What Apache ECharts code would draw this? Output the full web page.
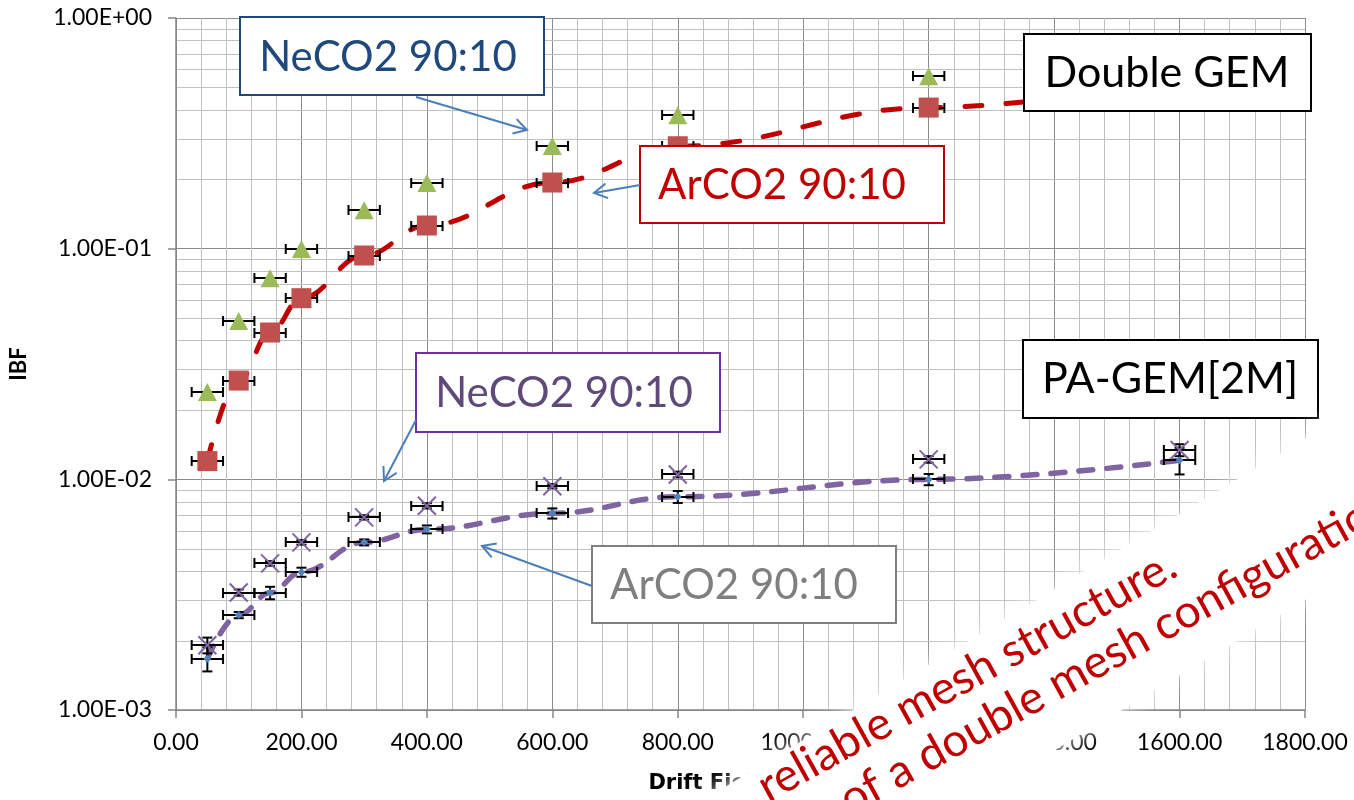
<!DOCTYPE html>
<html><head><meta charset="utf-8">
<script src="https://cdn.jsdelivr.net/npm/echarts@6/dist/echarts.min.js"></script>
<style>html,body{margin:0;padding:0;background:#fff}#c{width:1354px;height:800px}</style>
</head><body><div id="c"></div>
<script>
// ---- data ----
const fieldDGNe = [50, 100, 150, 200, 300, 400, 600, 800, 1200];
const ibfDGNe   = [0.0239, 0.0486, 0.0744, 0.0997, 0.1467, 0.1927, 0.2789, 0.3787, 0.559];
const fieldDGAr = [50, 100, 150, 200, 300, 400, 600, 800, 1200, 1600];
const ibfDGAr   = [0.0120, 0.0268, 0.0433, 0.0610, 0.0934, 0.1260, 0.1935, 0.278, 0.409, 0.54];
const fieldPA   = [50, 100, 150, 200, 300, 400, 600, 800, 1200, 1600];
const ibfPANe   = [0.00191, 0.00323, 0.00432, 0.00533, 0.00684, 0.00768, 0.00934, 0.0105, 0.0122, 0.0134];
const errPANe   = [0.00015, 0.0001, 0.0001, 0.00012, 0.00015, 0.0002, 0.0002, 0.0003, 0.0004, 0.0008];
const ibfPAAr   = [0.00167, 0.00258, 0.00322, 0.00396, 0.00533, 0.00607, 0.00712, 0.0084, 0.00999, 0.0121];
const errPAAr   = [0.0002, 0.00008, 0.0002, 0.00018, 0.00016, 0.00024, 0.00036, 0.0005, 0.00056, 0.0016];
const fieldErr  = 25;
const yDecades  = [0.001, 0.01, 0.1, 1];

// ---- helpers ----
const FONT = 'Lato';
const pairs = (xs, ys) => xs.map((x, i) => [x, ys[i]]);
const errRows = (xs, ys, ey) => xs.map((x, i) => [x, ys[i], fieldErr, ey ? ey[i] : 0]);
const minorY = [];
yDecades.slice(0, -1).forEach(d => { for (let k = 2; k <= 9; k++) minorY.push([0, d * k]); });

function fmtSci(v) {
  const e = Math.round(Math.log10(v));
  const m = v / Math.pow(10, e);
  const s = e < 0 ? '-' : '+';
  const a = Math.abs(e);
  return m.toFixed(2) + 'E' + s + (a < 10 ? '0' + a : a);
}

function errRender(params, api) {
  const x = api.value(0), y = api.value(1), ex = api.value(2), ey = api.value(3);
  const c = api.coord([x, y]);
  const l = api.coord([x - ex, y]), r = api.coord([x + ex, y]);
  const st = { stroke: '#000', lineWidth: 2 };
  const cy = Math.round(c[1]);
  const ch = [
    { type: 'line', shape: { x1: l[0], y1: cy, x2: r[0], y2: cy }, style: st },
    { type: 'line', shape: { x1: l[0], y1: cy - 5, x2: l[0], y2: cy + 5 }, style: st },
    { type: 'line', shape: { x1: r[0], y1: cy - 5, x2: r[0], y2: cy + 5 }, style: st }
  ];
  if (ey > 0) {
    const t = api.coord([x, y + ey]), b = api.coord([x, y - ey]);
    ch.push({ type: 'line', shape: { x1: c[0], y1: t[1], x2: c[0], y2: b[1] }, style: st });
    ch.push({ type: 'line', shape: { x1: c[0] - 5, y1: t[1], x2: c[0] + 5, y2: t[1] }, style: st });
    ch.push({ type: 'line', shape: { x1: c[0] - 5, y1: b[1], x2: c[0] + 5, y2: b[1] }, style: st });
  }
  return { type: 'group', children: ch };
}

function minorRender(params, api) {
  const cs = params.coordSys;
  const y = Math.round(api.coord([0, api.value(1)])[1]) + 0.5;
  return { type: 'line', shape: { x1: cs.x, y1: y, x2: cs.x + cs.width, y2: y },
           style: { stroke: '#c0c0c0', lineWidth: 1 } };
}

function box(x, y, w, h, stroke, text, color, tx, ty, fs) {
  return [
    { type: 'rect', z: 100, shape: { x: x, y: y, width: w, height: h },
      style: { fill: '#fff', stroke: stroke, lineWidth: 2 } },
    { type: 'text', z: 101, x: tx, y: ty,
      style: { text: text, fill: color, font: fs + 'px ' + FONT, align: 'center', verticalAlign: 'middle' } }
  ];
}
function arrow(x1, y1, x2, y2) {
  const a = Math.atan2(y2 - y1, x2 - x1), L = 15, w = 0.52;
  const p1 = [x2 - L * Math.cos(a - w), y2 - L * Math.sin(a - w)];
  const p2 = [x2 - L * Math.cos(a + w), y2 - L * Math.sin(a + w)];
  const st = { stroke: '#4A7EBB', lineWidth: 2, fill: null };
  return [
    { type: 'line', z: 100, shape: { x1: x1, y1: y1, x2: x2, y2: y2 }, style: st },
    { type: 'polyline', z: 100, shape: { points: [p1, [x2, y2], p2] }, style: st }
  ];
}

const rot = 29 * Math.PI / 180;
const graphics = [].concat(
  box(240, 17, 304, 78, '#1F497D', 'NeCO2 90:10', '#1F497D', 388, 57, 42),
  arrow(416, 97, 527, 130),
  box(640, 146, 304, 77, '#C00000', 'ArCO2 90:10', '#C00000', 782, 185, 42),
  arrow(640, 185, 594, 193),
  box(1024, 34, 287, 77, '#000', 'Double GEM', '#000', 1167, 73, 43),
  box(416, 353, 304, 79, '#7030A0', 'NeCO2 90:10', '#5F497A', 564, 393, 42),
  arrow(416, 420, 384, 481),
  box(592, 546, 304, 77, '#7F7F7F', 'ArCO2 90:10', '#7F7F7F', 734, 585, 42),
  arrow(592, 586, 482, 546),
  box(1023, 340, 295, 78, '#000', 'PA-GEM[2M]', '#000', 1170, 379, 43),
  [
    { type: 'polygon', z: 200,
      shape: { points: [[560, 886], [1420, 370], [1420, 531], [560, 1047]] },
      style: { fill: '#fff', shadowBlur: 22, shadowColor: '#fff' } },
    { type: 'text', z: 201, x: 761, y: 790, rotation: rot,
      style: { text: 'reliable mesh structure.', fill: '#C00000', font: '46px ' + FONT, align: 'left', verticalAlign: 'middle' } },
    { type: 'text', z: 201, x: 843, y: 803, rotation: rot,
      style: { text: 'of a double mesh configuration', fill: '#C00000', font: '46px ' + FONT, align: 'left', verticalAlign: 'middle' } }
  ]
);

const chart = echarts.init(document.getElementById('c'), null, { renderer: 'canvas' });
chart.setOption({
  backgroundColor: '#fff',
  animation: false,
  grid: { left: 175, right: 49, top: 18, bottom: 90, containLabel: false },
  xAxis: {
    type: 'value', min: 0, max: 1800, interval: 200,
    axisLine: { show: true, onZero: false, lineStyle: { color: '#868686', width: 1.5 } },
    axisTick: { show: true, length: 8, lineStyle: { color: '#868686', width: 1.5 } },
    axisLabel: { formatter: v => v.toFixed(2), fontFamily: FONT, fontSize: 23, color: '#000', margin: 21 },
    splitLine: { show: true, lineStyle: { color: '#8c8c8c', width: 1 } },
    minorTick: { show: false, splitNumber: 5 },
    minorSplitLine: { show: true, lineStyle: { color: '#c0c0c0', width: 1 } },
    name: 'Drift Field (V/cm)', nameLocation: 'middle', nameGap: 63,
    nameTextStyle: { fontFamily: 'DejaVu Sans', fontWeight: 'bold', fontSize: 21, color: '#000',
                     padding: [0, 0, 0, 20] }
  },
  yAxis: {
    type: 'log', logBase: 10, min: 0.001, max: 1,
    axisLine: { show: true, lineStyle: { color: '#868686', width: 1.5 } },
    axisTick: { show: true, length: 8, lineStyle: { color: '#868686', width: 1.5 } },
    axisLabel: { formatter: fmtSci, fontFamily: FONT, fontSize: 23, color: '#000', margin: 24 },
    splitLine: { show: true, lineStyle: { color: '#8c8c8c', width: 1 } },
    name: 'IBF', nameLocation: 'middle', nameGap: 146,
    nameTextStyle: { fontFamily: FONT, fontWeight: 'bold', fontSize: 22, color: '#000' }
  },
  series: [
    { type: 'custom', name: 'minorGrid', z: 0, silent: true, renderItem: minorRender,
      encode: { x: 0, y: 1 }, data: minorY },
    { type: 'line', name: 'PA-GEM ArCO2 fit', z: 3, data: pairs(fieldPA, ibfPAAr), smooth: 0.4,
      smoothMonotone: 'x', showSymbol: false, silent: true,
      lineStyle: { color: '#8064A2', width: 5.5, type: [14, 14], cap: 'round' } },
    { type: 'line', name: 'Double GEM ArCO2 fit', z: 3, data: pairs(fieldDGAr, ibfDGAr), smooth: 0.4,
      smoothMonotone: 'x', showSymbol: false, silent: true,
      lineStyle: { color: '#C00000', width: 5, type: [17, 24], cap: 'round' } },
    { type: 'custom', name: 'errDGNe', z: 4, renderItem: errRender, encode: { x: 0, y: 1 },
      data: errRows(fieldDGNe, ibfDGNe) },
    { type: 'custom', name: 'errDGAr', z: 4, renderItem: errRender, encode: { x: 0, y: 1 },
      data: errRows(fieldDGAr, ibfDGAr) },
    { type: 'custom', name: 'errPANe', z: 4, renderItem: errRender, encode: { x: 0, y: 1 },
      data: errRows(fieldPA, ibfPANe, errPANe) },
    { type: 'custom', name: 'errPAAr', z: 4, renderItem: errRender, encode: { x: 0, y: 1 },
      data: errRows(fieldPA, ibfPAAr, errPAAr) },
    { type: 'scatter', name: 'Double GEM NeCO2', z: 5, data: pairs(fieldDGNe, ibfDGNe),
      symbol: 'triangle', symbolSize: [19, 18], itemStyle: { color: '#9BBB59', opacity: 1 } },
    { type: 'scatter', name: 'Double GEM ArCO2', z: 5, data: pairs(fieldDGAr, ibfDGAr),
      symbol: 'rect', symbolSize: 20, itemStyle: { color: '#C0504D', opacity: 1 } },
    { type: 'scatter', name: 'PA-GEM NeCO2', z: 5, data: pairs(fieldPA, ibfPANe),
      symbol: 'path://M0,0L10,10M10,0L0,10', symbolSize: 18,
      itemStyle: { color: 'rgba(0,0,0,0)', borderColor: '#8064A2', borderWidth: 2, opacity: 1 } },
    { type: 'scatter', name: 'PA-GEM ArCO2', z: 6, data: pairs(fieldPA, ibfPAAr),
      symbol: 'diamond', symbolSize: 8, itemStyle: { color: '#4F81BD', opacity: 1 } }
  ],
  graphic: graphics
});
</script></body></html>
